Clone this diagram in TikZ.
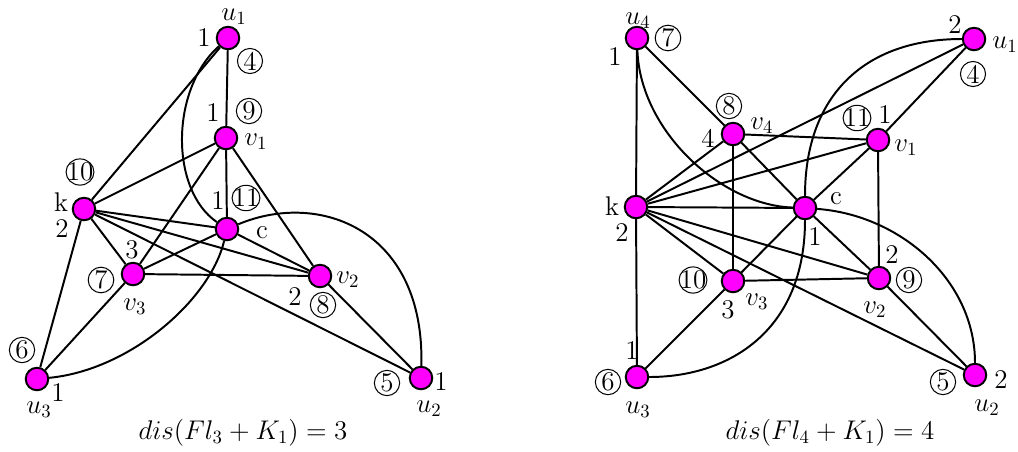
\documentclass[tikz,border=0pt]{standalone}
\usetikzlibrary{shapes.geometric}
\definecolor{vmag}{RGB}{255,0,255}
\pgfdeclarelayer{background}
\pgfsetlayers{background,main}
\begin{document}
\begin{tikzpicture}[x=0.5333pt,y=-0.5333pt,
  vtx/.style={circle,fill=vmag,draw=black,line width=1.05pt,minimum size=12pt,inner sep=0pt},
  lbl/.style={inner sep=0pt,font=\Large},
  circ/.style={circle,draw=black,line width=0.55pt,inner sep=0.5pt,font=\Large},
  circw/.style={ellipse,draw=black,line width=0.55pt,inner xsep=-1.8pt,inner ysep=0pt,font=\Large},
  edge/.style={line width=1.05pt,draw=black}]
\useasboundingbox (0,0) rectangle (1018,451);
% ---------- left graph ----------
\node[vtx] (Lu1) at (228,38) {};
\node[vtx] (Lv1) at (226,138) {};
\node[vtx] (Lc) at (227,229) {};
\node[vtx] (Lk) at (84,209) {};
\node[vtx] (Lv3) at (133,274) {};
\node[vtx] (Lv2) at (320,276) {};
\node[vtx] (Lu3) at (37,379) {};
\node[vtx] (Lu2) at (421,378) {};
\begin{pgfonlayer}{background}
\draw[edge] (Lu1) -- (Lv1) -- (Lc);
\draw[edge] (Lu1) -- (Lk);
\draw[edge] (Lk) -- (Lv1);
\draw[edge] (Lv1) -- (Lv3);
\draw[edge] (Lv1) -- (Lv2);
\draw[edge] (Lk) -- (Lc);
\draw[edge] (Lk) -- (Lv2);
\draw[edge] (Lk) -- (Lu2);
\draw[edge] (Lk) -- (Lv3);
\draw[edge] (Lk) -- (Lu3);
\draw[edge] (Lc) -- (Lv3);
\draw[edge] (Lc) -- (Lv2);
\draw[edge] (Lv3) -- (Lv2);
\draw[edge] (Lv3) -- (Lu3);
\draw[edge] (Lv2) -- (Lu2);
\draw[edge] (Lu1) .. controls (170,90) and (170,190) .. (Lc);
\draw[edge] (Lc) .. controls (210,300) and (130,370) .. (Lu3);
\draw[edge] (Lc) .. controls (320,190) and (425,230) .. (Lu2);
\end{pgfonlayer}
\node[lbl] (Llu1) at (234,17) {$u_1$};
\node[lbl] (Ln1) at (204,38) {1};
\node[circ] (Lc4) at (250,61) {4};
\node[lbl] (Ln2) at (213,113) {1};
\node[circ] (Lc9) at (249,111) {9};
\node[lbl] (Llv1) at (256,142) {$v_1$};
\node[circw] (Lc10) at (80,172) {10};
\node[lbl] (Llk) at (61,202) {k};
\node[lbl] (Ln3) at (218,201) {1};
\node[circw] (Lc11) at (246,198) {11};
\node[lbl] (Llc) at (262,233) {c};
\node[lbl] (Ln4) at (62,229) {2};
\node[lbl] (Ln5) at (132,250) {3};
\node[circ] (Lc7) at (101,280) {7};
\node[lbl] (Llv3) at (135,307) {$v_3$};
\node[lbl] (Llv2) at (348,280) {$v_2$};
\node[lbl] (Ln6) at (295,297) {2};
\node[circ] (Lc8) at (323,305) {8};
\node[circ] (Lc6) at (22,350) {6};
\node[lbl] (Ln7) at (58,393) {1};
\node[lbl] (Llu3) at (39,410) {$u_3$};
\node[circ] (Lc5) at (387,383) {5};
\node[lbl] (Ln8) at (441,382) {1};
\node[lbl] (Llu2) at (429,409) {$u_2$};
\node[lbl] (Lcap) at (243,433) {$dis(Fl_3+K_1)=3$};
% ---------- right graph ----------
\node[vtx] (Ru4) at (637,38) {};
\node[vtx] (Ru1) at (974,39) {};
\node[vtx] (Rv4) at (733,134) {};
\node[vtx] (Rv1) at (878,140) {};
\node[vtx] (Rk) at (636,207) {};
\node[vtx] (Rc) at (805,208) {};
\node[vtx] (Rv3) at (733,281) {};
\node[vtx] (Rv2) at (879,278) {};
\node[vtx] (Ru3) at (637,377) {};
\node[vtx] (Ru2) at (975,375) {};
\begin{pgfonlayer}{background}
\draw[edge] (Ru4) -- (Rk) -- (Ru3);
\draw[edge] (Ru4) -- (Rv4);
\draw[edge] (Rv4) -- (Rv1);
\draw[edge] (Rv4) -- (Rv3);
\draw[edge] (Rv4) -- (Rc);
\draw[edge] (Rk) -- (Rv4);
\draw[edge] (Rk) -- (Ru1);
\draw[edge] (Rk) -- (Rv1);
\draw[edge] (Rk) -- (Rc);
\draw[edge] (Rk) -- (Rv3);
\draw[edge] (Rk) -- (Rv2);
\draw[edge] (Rk) -- (Ru2);
\draw[edge] (Ru1) -- (Rv1);
\draw[edge] (Rv1) -- (Rc);
\draw[edge] (Rv1) -- (Rv2);
\draw[edge] (Rc) -- (Rv3);
\draw[edge] (Rc) -- (Rv2);
\draw[edge] (Rv3) -- (Rv2);
\draw[edge] (Rv3) -- (Ru3);
\draw[edge] (Rv2) -- (Ru2);
\draw[edge] (Ru4) .. controls (640,130) and (720,205) .. (Rc);
\draw[edge] (Ru1) .. controls (865,39) and (805,95) .. (Rc);
\draw[edge] (Rc) .. controls (805,330) and (730,377) .. (Ru3);
\draw[edge] (Rc) .. controls (900,215) and (975,280) .. (Ru2);
\end{pgfonlayer}
\node[lbl] (Rlu4) at (638,21) {$u_4$};
\node[circ] (Rc7) at (668,38) {7};
\node[lbl] (Rn1) at (615,57) {1};
\node[lbl] (Rn2) at (955,25) {2};
\node[lbl] (Rlu1) at (1005,45) {$u_1$};
\node[circ] (Rc4) at (973,74) {4};
\node[circ] (Rc8) at (729,106) {8};
\node[lbl] (Rlv4) at (762,126) {$v_4$};
\node[lbl] (Rn3) at (708,138) {4};
\node[circw] (Rc11) at (857,118) {11};
\node[lbl] (Rn4) at (885,115) {1};
\node[lbl] (Rlv1) at (906,148) {$v_1$};
\node[lbl] (Rlk) at (612,206) {k};
\node[lbl] (Rlc) at (836,199) {c};
\node[lbl] (Rn5) at (622,233) {2};
\node[lbl] (Rn6) at (815,237) {1};
\node[circw] (Rc10) at (693,280) {10};
\node[lbl] (Rn7) at (728,310) {3};
\node[lbl] (Rlv3) at (757,302) {$v_3$};
\node[lbl] (Rn8) at (892,255) {2};
\node[circ] (Rc9) at (909,280) {9};
\node[lbl] (Rlv2) at (875,310) {$v_2$};
\node[lbl] (Rn9) at (632,351) {1};
\node[circ] (Rc6) at (608,382) {6};
\node[lbl] (Rlu3) at (638,410) {$u_3$};
\node[circ] (Rc5) at (943,382) {5};
\node[lbl] (Rn10) at (1001,380) {2};
\node[lbl] (Rlu2) at (987,408) {$u_2$};
\node[lbl] (Rcap) at (830,433) {$dis(Fl_4+K_1)=4$};
\end{tikzpicture}
\end{document}
